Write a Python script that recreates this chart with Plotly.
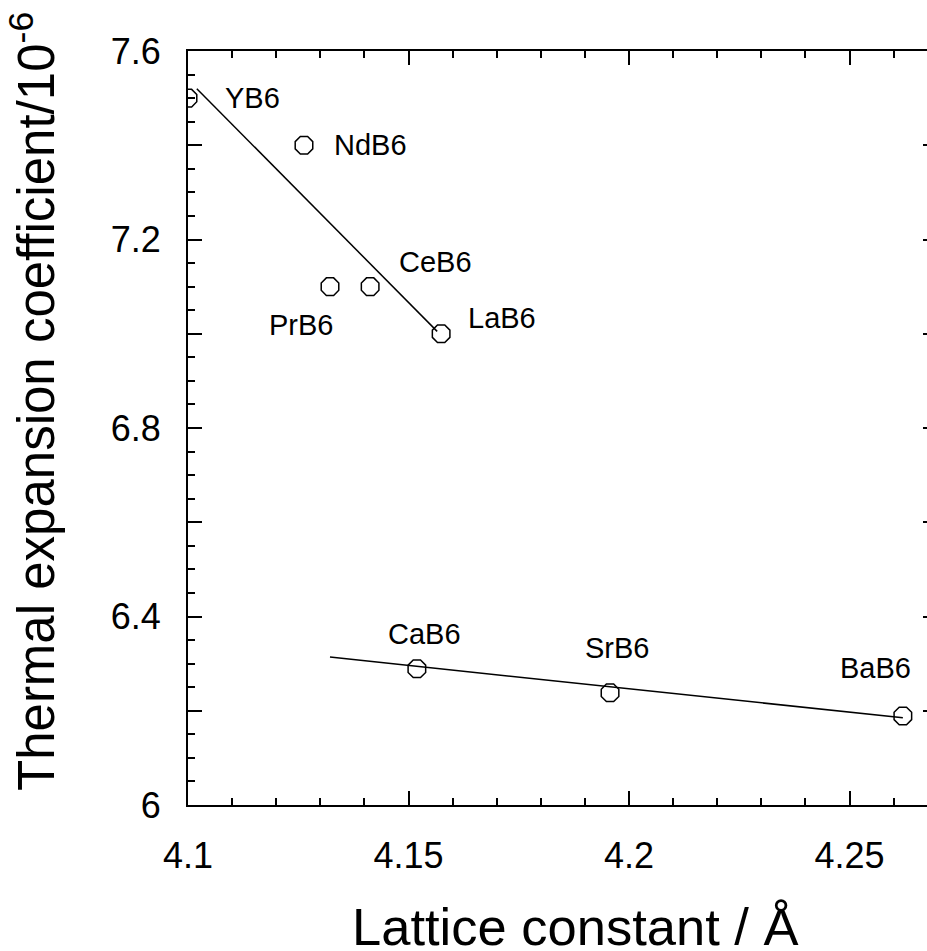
import plotly.graph_objects as go

# ---- data ----
compounds = ["YB6", "NdB6", "PrB6", "CeB6", "LaB6", "CaB6", "SrB6", "BaB6"]
lattice_const = [4.100, 4.1263, 4.1322, 4.1413, 4.1574, 4.1519, 4.1957, 4.2621]
thermal_exp = [7.50, 7.40, 7.10, 7.10, 7.00, 6.289, 6.238, 6.189]

# fitted trend lines (endpoints as drawn)
fit_rare_x = [4.1020, 4.1565]
fit_rare_y = [7.520, 7.005]
fit_alk_x = [4.1322, 4.2621]
fit_alk_y = [6.314, 6.185]

x_tickvals = [4.10, 4.15, 4.20, 4.25]
x_ticktext = ["4.1", "4.15", "4.2", "4.25"]
y_tickvals = [6.0, 6.4, 6.8, 7.2, 7.6]
y_ticktext = ["6", "6.4", "6.8", "7.2", "7.6"]
y_unlabeled_major = [6.2, 6.6, 7.0, 7.4]
y_all_major = [6.0, 6.2, 6.4, 6.6, 6.8, 7.0, 7.2, 7.4, 7.6]

# label placement (x, y, xanchor)
label_pos = {
    "YB6": (4.1079, 7.50, "left"),
    "NdB6": (4.1327, 7.40, "left"),
    "PrB6": (4.1179, 7.019, "left"),
    "CeB6": (4.1474, 7.152, "left"),
    "LaB6": (4.1630, 7.033, "left"),
    "CaB6": (4.1536, 6.363, "center"),
    "SrB6": (4.1973, 6.333, "center"),
    "BaB6": (4.2560, 6.291, "center"),
}

FONT = "Liberation Sans, Arial, Helvetica, sans-serif"

W, H = 927, 951
L, T = 188, 51
B = H - 805
R = 0
pw, ph = W - L - R, H - T - B
x_max = 4.1 + (927 - 188) / 4410

fig = go.Figure()
fig.add_trace(go.Scatter(x=fit_rare_x, y=fit_rare_y, mode="lines",
                         line=dict(color="black", width=1.5), showlegend=False))
fig.add_trace(go.Scatter(x=fit_alk_x, y=fit_alk_y, mode="lines",
                         line=dict(color="black", width=1.5), showlegend=False))
fig.add_trace(go.Scatter(x=lattice_const, y=thermal_exp, mode="markers",
                         marker=dict(symbol="octagon-open", size=19, color="black",
                                     line=dict(width=1.5, color="black")),
                         showlegend=False))
# helper traces for overlay axes carrying extra ticks
fig.add_trace(go.Scatter(x=[None], y=[None], yaxis="y2", mode="markers",
                         showlegend=False, hoverinfo="skip"))
fig.add_trace(go.Scatter(x=[None], y=[None], yaxis="y3", mode="markers",
                         showlegend=False, hoverinfo="skip"))

for name in compounds:
    lx, ly, xa = label_pos[name]
    fig.add_annotation(x=lx, y=ly, text=name, showarrow=False, xanchor=xa,
                       yanchor="middle", font=dict(size=29, color="black", family=FONT))

# axis titles as annotations
fig.add_annotation(xref="paper", yref="paper", x=(575 - L) / pw, y=(805 - 926) / ph,
                   text="Lattice constant / Å", showarrow=False,
                   xanchor="center", yanchor="middle",
                   font=dict(size=52.5, color="black", family=FONT))
fig.add_annotation(xref="paper", yref="paper", x=(33 - L) / pw, y=(805 - 402) / ph,
                   text="Thermal expansion coefficient/10<sup>-6</sup>", showarrow=False,
                   textangle=-90, xanchor="center", yanchor="middle",
                   font=dict(size=51, color="black", family=FONT))

fig.update_xaxes(range=[4.1, x_max], tickvals=x_tickvals, ticktext=x_ticktext,
                 ticks="inside", ticklen=14, tickwidth=1.5, tickcolor="black",
                 minor=dict(dtick=0.01, tick0=4.1, ticks="inside", ticklen=7,
                            tickwidth=1.5, tickcolor="black"),
                 showline=True, linecolor="black", linewidth=2, mirror="ticks",
                 showgrid=False, zeroline=False, ticklabelstandoff=18,
                 tickfont=dict(size=36, color="black", family=FONT))
fig.update_yaxes(range=[6.0, 7.6], tickvals=y_tickvals, ticktext=y_ticktext,
                 ticks="inside", ticklen=14, tickwidth=1.5, tickcolor="black",
                 minor=dict(dtick=0.05, tick0=6.0, ticks="inside", ticklen=7,
                            tickwidth=1.5, tickcolor="black"),
                 showline=True, linecolor="black", linewidth=2, mirror=False,
                 showgrid=False, zeroline=False, ticklabelstandoff=18,
                 tickfont=dict(size=36, color="black", family=FONT))
fig.update_layout(
    yaxis2=dict(overlaying="y", side="left", anchor="x",
                range=[6.0, 7.6], tickvals=y_unlabeled_major,
                ticks="inside", ticklen=14, tickwidth=1.5,
                tickcolor="black", showticklabels=False,
                showline=False, showgrid=False, zeroline=False),
    yaxis3=dict(overlaying="y", side="right", anchor="x",
                range=[6.0, 7.6], tickvals=y_all_major,
                ticks="inside", ticklen=4, tickwidth=1.5,
                tickcolor="black", showticklabels=False,
                showline=False, showgrid=False, zeroline=False),
)

fig.update_layout(width=W, height=H, margin=dict(l=L, r=R, t=T, b=B, pad=0),
                  plot_bgcolor="white", paper_bgcolor="white", showlegend=False)

fig.write_html("out.html", config={"displayModeBar": False},
               post_script="document.body.style.margin='0';"
                           "document.body.style.overflow='hidden';"
                           "document.documentElement.style.overflow='hidden';")
